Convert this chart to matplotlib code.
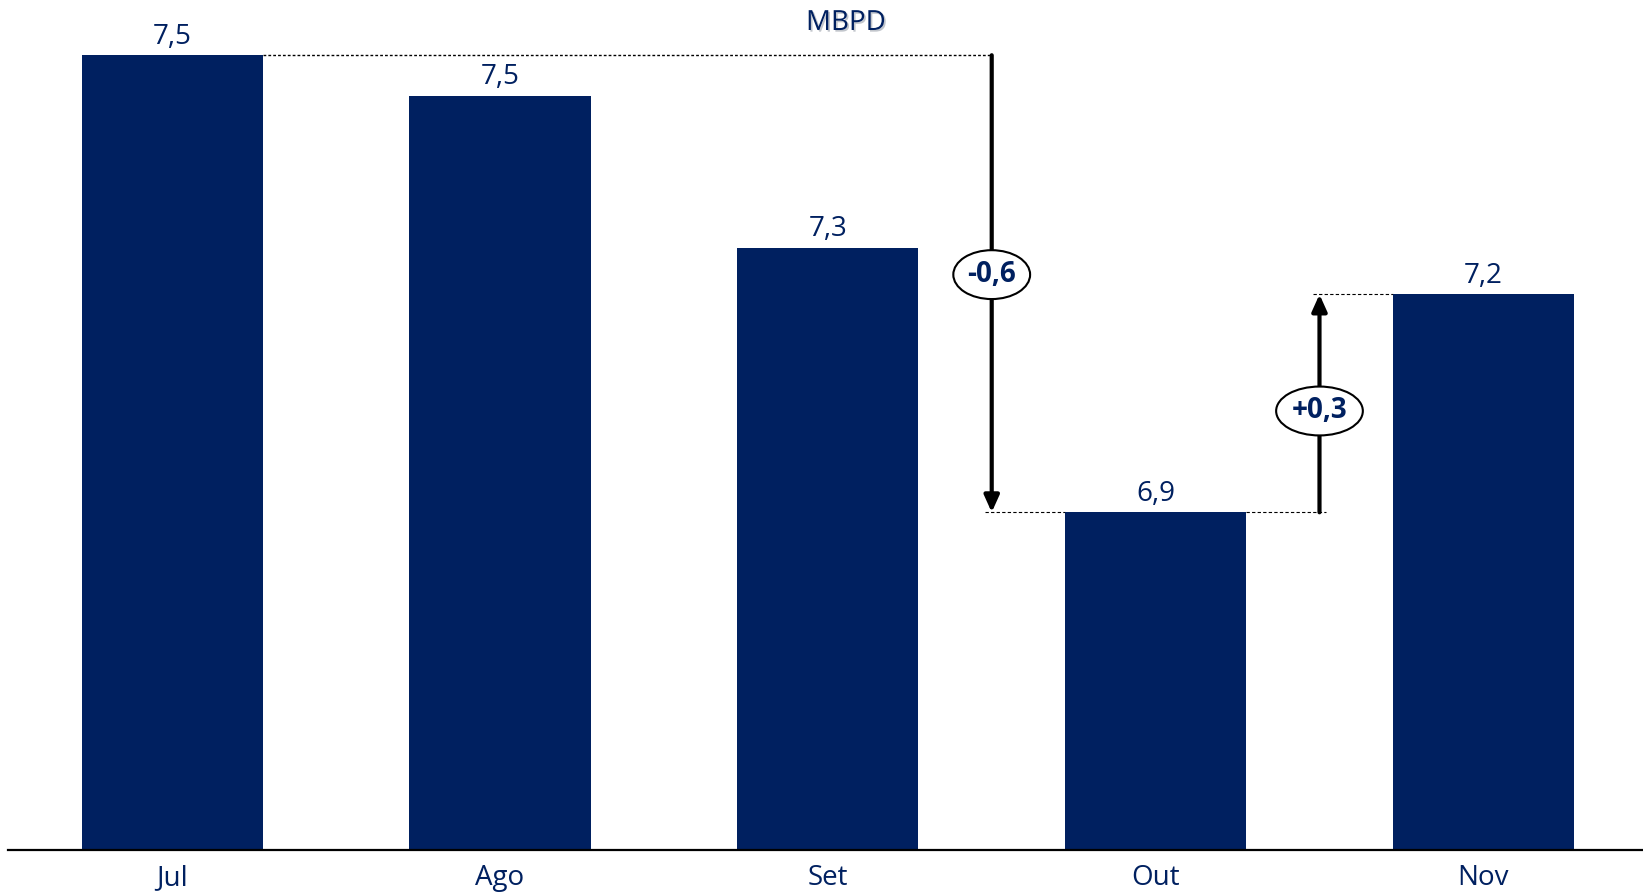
import matplotlib
matplotlib.use("Agg")
import matplotlib.pyplot as plt
import matplotlib.patheffects as pe

months = ["Jul", "Ago", "Set", "Out", "Nov"]
values = [7.543, 7.490, 7.290, 6.943, 7.229]
value_labels = ["7,5", "7,5", "7,3", "6,9", "7,2"]
unit_label = "MBPD"
drop_label = "-0,6"
rise_label = "+0,3"

navy = "#002060"
plt.rcParams['font.family'] = ['Open Sans', 'DejaVu Sans']

fig = plt.figure(figsize=(16.43, 8.93), dpi=100)
ax = fig.add_axes([8.4/1643, (893-849.8)/893, 1 - 8.4/1643, 838/893])
ymin, ymax = 6.5, 7.6
ax.set_ylim(ymin, ymax)
ax.set_xlim(-0.5, 4.487)

x = list(range(len(months)))
bw = 0.553
ax.bar(x, [v - ymin for v in values], bottom=ymin, width=bw, color=navy, zorder=2)

for xi, v, lab in zip(x, values, value_labels):
    ax.text(xi, v + 0.006, lab, ha='center', va='bottom', fontsize=20, color=navy)

ax.set_xticks(x)
ax.set_xticklabels(months, fontsize=20, color=navy)
ax.tick_params(axis='x', length=0, pad=10)
ax.set_yticks([])
for s in ['top', 'right', 'left']:
    ax.spines[s].set_visible(False)
ax.spines['bottom'].set_linewidth(1.6)
ax.spines['bottom'].set_color('black')

# dashed guide lines
ax.plot([0 + bw/2, 2.5], [values[0], values[0]], ls=(0, (2, 1.5)), color='black', lw=1, zorder=1)
ax.plot([2.48, 3 - bw/2], [values[3], values[3]], ls=(0, (3, 2)), color='black', lw=0.8, zorder=1)
ax.plot([3 + bw/2, 3.52], [values[3], values[3]], ls=(0, (3, 2)), color='black', lw=0.8, zorder=1)
ax.plot([3.48, 4 - bw/2], [values[4], values[4]], ls=(0, (3, 2)), color='black', lw=0.8, zorder=1)

# arrows
arrowprops = dict(arrowstyle='-|>,head_width=0.45,head_length=1.0', color='black', lw=3,
                  shrinkA=0, shrinkB=0)
ax.annotate('', xy=(2.5, values[3]), xytext=(2.5, values[0]), arrowprops=arrowprops, zorder=3)
ax.annotate('', xy=(3.5, values[4]), xytext=(3.5, values[3]), arrowprops=arrowprops, zorder=3)

bbox = dict(boxstyle='ellipse,pad=0.1', fc='white', ec='black', lw=1.5)
ax.text(2.5, 7.255, drop_label, ha='center', va='center', fontsize=20, fontweight='bold',
        color=navy, bbox=bbox, zorder=4)
ax.text(3.5, 7.076, rise_label, ha='center', va='center', fontsize=20, fontweight='bold',
        color=navy, bbox=bbox, zorder=4)

fig.text(846/1643, 1 - 23/893, unit_label, ha='center', va='center', fontsize=20, color=navy,
         path_effects=[pe.withSimplePatchShadow(offset=(1.2, -1.2), shadow_rgbFace='#9aa0aa', alpha=0.6)])

fig.savefig('out.png', dpi=100)
